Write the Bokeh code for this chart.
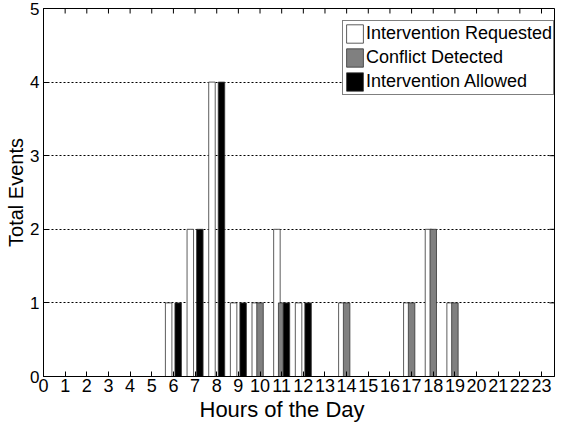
import math
from bokeh.plotting import figure
from bokeh.models import (ColumnDataSource, Legend, LegendItem, FixedTicker, Range1d, Title)
from bokeh.transform import dodge
from bokeh.embed import file_html
from bokeh.resources import INLINE

# ---- data ----
hours = list(range(24))
requested = [0, 0, 0, 0, 0, 0, 1, 2, 4, 1, 1, 2, 1, 0, 1, 0, 0, 1, 2, 1, 0, 0, 0, 0]
conflict  = [0, 0, 0, 0, 0, 0, 0, 0, 0, 0, 1, 1, 0, 0, 1, 0, 0, 1, 2, 1, 0, 0, 0, 0]
allowed   = [0, 0, 0, 0, 0, 0, 1, 2, 4, 1, 0, 1, 1, 0, 0, 0, 0, 0, 0, 0, 0, 0, 0, 0]
series_labels = ["Intervention Requested", "Conflict Detected", "Intervention Allowed"]
y_ticks = [0, 1, 2, 3, 4, 5]
x_limits = (0, 23.6)
y_limits = (0, 5)
x_title = "Hours of the Day"
y_title = "Total Events"

src = ColumnDataSource(dict(hour=hours, requested=requested,
                            conflict=conflict, allowed=allowed))

FONT = "Liberation Sans"

p = figure(width=555, height=424, x_range=Range1d(*x_limits), y_range=Range1d(*y_limits),
           output_backend="svg", toolbar_location=None,
           min_border_left=43, min_border_right=1, min_border_top=8,
           min_border_bottom=48)
p.background_fill_color = "white"
p.border_fill_color = "white"
p.outline_line_color = "black"
p.outline_line_width = 1

# axes
for ax in (p.xaxis[0], p.yaxis[0]):
    ax.major_tick_in = 5
    ax.major_tick_out = 0
    ax.minor_tick_in = 0
    ax.minor_tick_out = 0
    ax.axis_line_color = "black"
    ax.major_tick_line_color = "black"
    ax.major_label_text_font = FONT
    ax.major_label_text_color = "black"
    ax.axis_label_text_font = FONT
    ax.axis_label_text_font_style = "normal"
    ax.axis_label_text_color = "black"
    ax.axis_label_standoff = 0

p.xaxis.ticker = FixedTicker(ticks=hours)
p.yaxis.ticker = FixedTicker(ticks=y_ticks)
p.xaxis.major_label_text_font_size = "18px"
p.yaxis.major_label_text_font_size = "17px"
p.xaxis.major_label_standoff = 2
p.yaxis.major_label_standoff = 4
p.yaxis.axis_label = y_title
p.yaxis.axis_label_text_font_size = "20px"

# x title below the tick labels, positioned as in the reference
p.add_layout(Title(text=x_title, align="left", offset=156, standoff=0,
                   text_font=FONT, text_font_size="22px", text_font_style="normal",
                   text_color="black"), "below")

# grid
p.xgrid.visible = False
p.ygrid.ticker = FixedTicker(ticks=y_ticks[1:-1])
p.ygrid.grid_line_color = "black"
p.ygrid.grid_line_dash = "2 2"
p.ygrid.grid_line_width = 1

# bars
cols = ["requested", "conflict", "allowed"]
fills = ["#ffffff", "#808080", "#000000"]
offs = [-0.22, 0.0, 0.22]
renderers = []
for col, fc, off in zip(cols, fills, offs):
    r = p.vbar(x=dodge("hour", off, range=p.x_range), top=col, bottom=0, width=0.3,
               source=src, fill_color=fc, line_color="#333333", line_width=0.8)
    renderers.append(r)

# mirrored inward ticks on the top and right edges (half of each dash is clipped)
p.scatter(x=hours, y=[y_limits[1]] * len(hours), marker="dash", size=10,
          angle=math.pi / 2, line_color="black", line_width=1)
p.scatter(x=[x_limits[1]] * len(y_ticks), y=y_ticks, marker="dash", size=10,
          line_color="black", line_width=1)

legend = Legend(items=[LegendItem(label=lab, renderers=[r])
                       for lab, r in zip(series_labels, renderers)],
                location=(299, 281))
legend.label_text_font = FONT
legend.label_text_font_size = "18px"
legend.label_text_color = "black"
legend.glyph_width = 21
legend.glyph_height = 23
legend.spacing = 1
legend.padding = 1
legend.label_standoff = 1
legend.margin = 0
legend.border_line_color = "black"
legend.border_line_width = 1
legend.background_fill_color = "white"
legend.background_fill_alpha = 1.0
p.add_layout(legend)

open("out.html", "w").write(file_html(p, INLINE))
